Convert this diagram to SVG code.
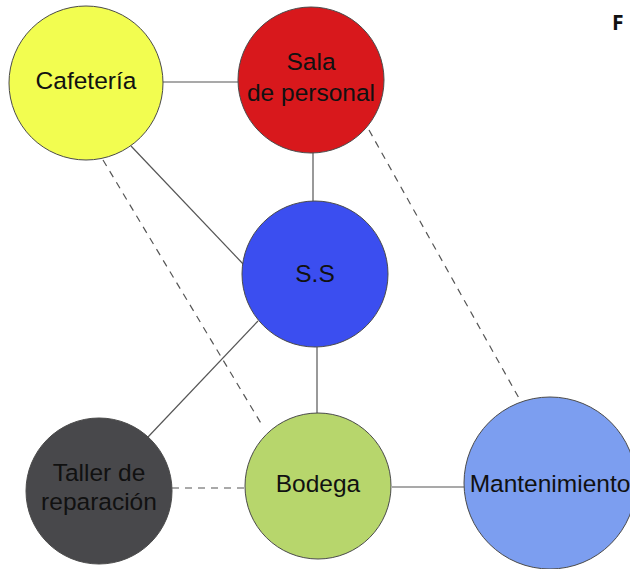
<svg xmlns="http://www.w3.org/2000/svg" width="630" height="569" viewBox="0 0 630 569">
<style>
.n{stroke:#4a4a4a;stroke-width:1}
.c{stroke:#555;stroke-width:1.2;fill:none}
.d{stroke-dasharray:7,6}
.t{font-family:"Liberation Sans",Arial,sans-serif;font-size:24.5px;fill:#111;text-anchor:middle}
</style>
<rect width="630" height="569" fill="#fff"/>
<g id="connectors">
<line class="c" x1="163" y1="82" x2="238" y2="82"/>
<line class="c" x1="131" y1="146" x2="245" y2="266"/>
<line class="c d" x1="103" y1="160" x2="262" y2="425"/>
<line class="c" x1="313" y1="152" x2="313" y2="202"/>
<line class="c d" x1="369" y1="130" x2="520" y2="400"/>
<line class="c" x1="258" y1="321" x2="148" y2="437"/>
<line class="c" x1="317" y1="347" x2="317" y2="413"/>
<line class="c d" x1="172" y1="488" x2="245" y2="488"/>
<line class="c" x1="392" y1="487" x2="464" y2="487"/>
</g>
<g id="cafeteria">
<circle class="n" cx="86" cy="83" r="77" fill="#f2fd50"/>
<text class="t" x="86" y="89">Cafetería</text>
</g>
<g id="sala">
<circle class="n" cx="311" cy="80" r="73" fill="#d8181c"/>
<text class="t" x="311" y="70">Sala</text>
<text class="t" x="311" y="101">de personal</text>
</g>
<g id="ss">
<circle class="n" cx="315" cy="274" r="73" fill="#3b4ef0"/>
<text class="t" x="315" y="282">S.S</text>
</g>
<g id="taller">
<circle class="n" cx="99" cy="491" r="73" fill="#48484b"/>
<text class="t" x="99" y="481">Taller de</text>
<text class="t" x="99" y="510">reparación</text>
</g>
<g id="bodega">
<circle class="n" cx="318" cy="486" r="73" fill="#b7d66c"/>
<text class="t" x="318" y="492">Bodega</text>
</g>
<g id="mantenimiento">
<circle class="n" cx="550" cy="483" r="86" fill="#7c9ef0"/>
<text class="t" x="550" y="492">Mantenimiento</text>
</g>
<text x="612" y="30" font-family="'Open Sans','DejaVu Sans',sans-serif" font-weight="bold" font-size="21" fill="#111">F</text>
</svg>
